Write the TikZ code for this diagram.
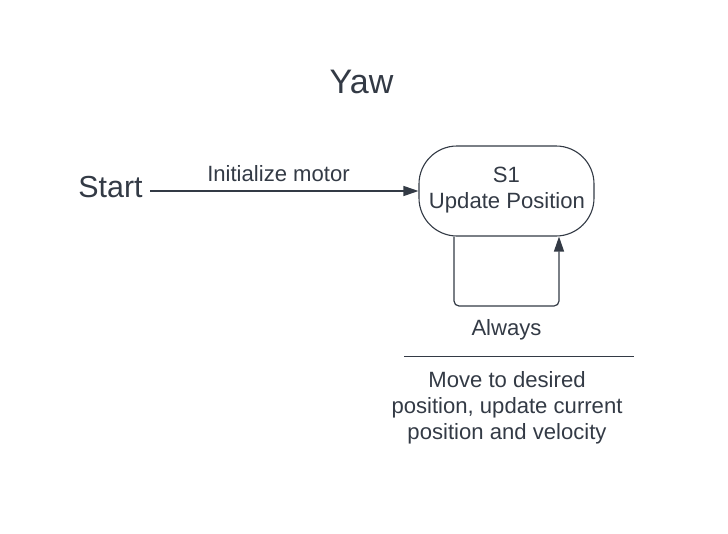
\documentclass[tikz,border=0pt]{standalone}
\usepackage{fontspec}
\setmainfont{Liberation Sans}
\usetikzlibrary{arrows.meta}
\definecolor{ink}{HTML}{333A45}
\tikzset{
  txt/.style={text=ink, inner sep=0pt, anchor=base, font=\fontsize{22.1}{26}\selectfont},
  bigtxt/.style={text=ink, inner sep=0pt, anchor=base, font=\fontsize{30.4}{34}\selectfont},
  titletxt/.style={text=ink, inner sep=0pt, anchor=base, font=\fontsize{34}{38}\selectfont},
  statebox/.style={draw=ink, line width=1.1pt, rounded corners=38pt, minimum width=175pt, minimum height=90pt, inner sep=0pt},
  conn/.style={draw=ink, line width=1.2pt, -{Triangle[length=15pt,width=10pt]}},
}
\begin{document}
\begin{tikzpicture}[x=1pt,y=-1pt]
\useasboundingbox (0,0) rectangle (728,533);
\node[titletxt] (yaw) at (361.5,93) {Yaw};
\node[bigtxt] (start) at (110.5,197) {Start};
\node[statebox] (s1) at (506.5,191) {};
\node[txt] (s1a) at (506.5,182) {S1};
\node[txt] (s1b) at (507,208) {Update Position};
\coordinate (st) at (150,191);
\draw[conn] (st) -- (s1.west |- st);
\node[txt] (initlbl) at (278.5,181) {Initialize motor};
\coordinate (la) at (454,306);
\coordinate (lb) at (559,306);
\draw[conn, rounded corners=5pt] (s1.south -| la) -- (la) -- (lb) -- (s1.south -| lb);
\node[txt] (always) at (506.5,335) {Always};
\coordinate (ha) at (404,356);
\coordinate (hb) at (634,356);
\draw[draw=ink, line width=1pt] (ha) -- (hb);
\node[txt] (d1) at (507,387) {Move to desired};
\node[txt] (d2) at (507,413) {position, update current};
\node[txt] (d3) at (507,439) {position and velocity};
\end{tikzpicture}
\end{document}
